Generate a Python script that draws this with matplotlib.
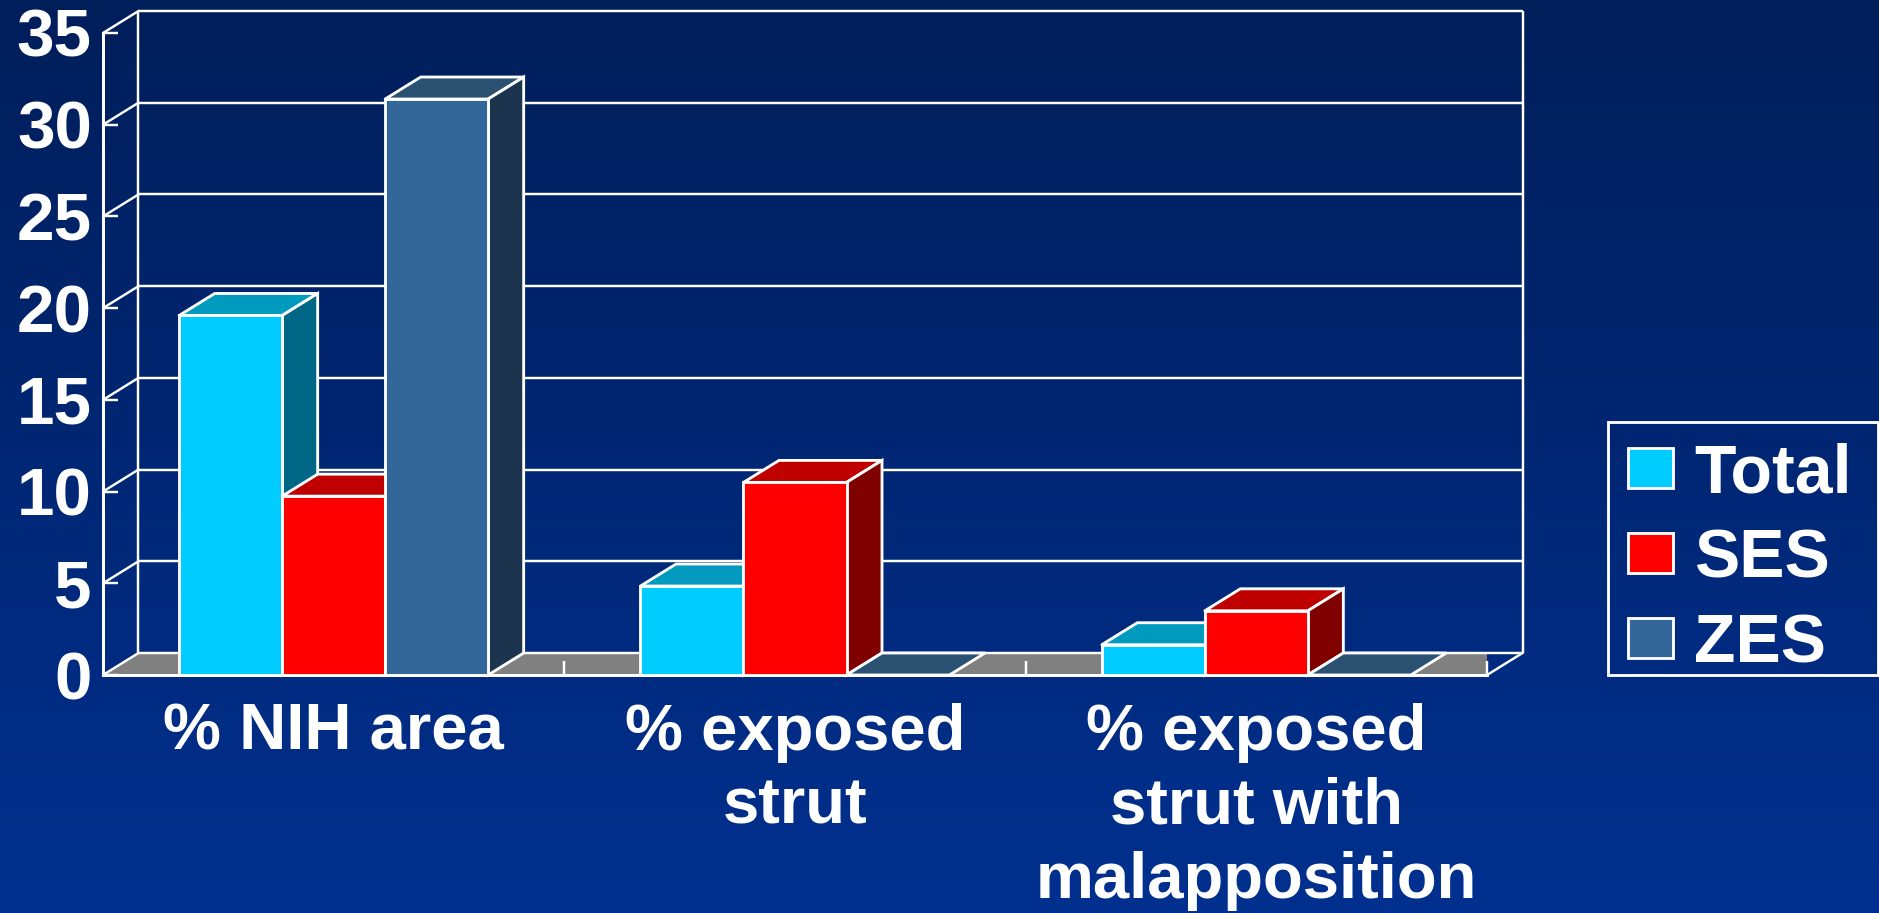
import numpy as np
import matplotlib
matplotlib.use("Agg")
import matplotlib.pyplot as plt
from matplotlib.patches import Polygon, Patch, Rectangle
from matplotlib.transforms import Affine2D, IdentityTransform

categories = ["% NIH area", "% exposed\nstrut", "% exposed\nstrut with\nmalapposition"]
series_names = ["Total", "SES", "ZES"]
total_vals = [19.6, 4.85, 1.65]
ses_vals = [9.75, 10.5, 3.5]
zes_vals = [31.4, 0.0, 0.0]
y_ticks = [0, 5, 10, 15, 20, 25, 30, 35]

front_cols = ["#00CCFF", "#FF0000", "#336699"]
top_cols = ["#009ABF", "#BF0000", "#2A5072"]
side_cols = ["#006685", "#800000", "#1C344D"]

W, H = 1879, 913
DX, DY = 35.5, 22.0
LW = 1.75
plt.rcParams["font.family"] = ["Liberation Sans", "DejaVu Sans"]
plt.rcParams["font.weight"] = "bold"

fig = plt.figure(figsize=(W / 100, H / 100), dpi=100)

# background gradient
bg = fig.add_axes([0, 0, 1, 1], zorder=-1)
c0 = np.array([0, 30, 90]) / 255
c1 = np.array([0, 48, 143]) / 255
t = np.linspace(0, 1, 256)[:, None, None]
bg.imshow(c0 + (c1 - c0) * t, aspect="auto", extent=(0, 1, 0, 1), origin="upper")
bg.axis("off")

L, R, T, B = 103, 1487, 33, 675
ax = fig.add_axes([L / W, 1 - B / H, (R - L) / W, (B - T) / H])
ax.patch.set_visible(False)
ax.set_xlim(-0.5, 2.5)
ax.set_ylim(0, 35)
back = ax.transData + Affine2D().translate(DX, DY)

# back wall grid, floor and side wall
floor = [(-0.5, 0), (2.5, 0)]
p = ax.transData.transform(floor)
ax.add_patch(Polygon([p[0], p[1], p[1] + (DX, DY), p[0] + (DX, DY)], closed=True,
                     facecolor="#808080", edgecolor="none", transform=IdentityTransform(), zorder=0.9))
ax.hlines(y_ticks, -0.5, 2.5, color="white", lw=LW, transform=back, zorder=1, clip_on=False)
ax.vlines([-0.5, 2.5], 0, 35, color="white", lw=LW, transform=back, zorder=1, clip_on=False)
for v in y_ticks:
    q = ax.transData.transform((-0.5, v))
    ax.plot([q[0], q[0] + DX], [q[1], q[1] + DY], color="white", lw=LW, transform=IdentityTransform(),
            zorder=1, clip_on=False, solid_capstyle="round")
q = ax.transData.transform((2.5, 0))
ax.plot([q[0], q[0] + DX], [q[1], q[1] + DY], color="white", lw=LW, transform=IdentityTransform(), zorder=1, clip_on=False)

# bars
bw = 103 / (461.33)
all_vals = [total_vals, ses_vals, zes_vals]
x = np.arange(len(categories))
for j, vals in enumerate(all_vals):
    z = 3 + j
    xs = x + (j - 1) * bw
    ax.bar(xs, vals, bw, color=front_cols[j], edgecolor="white", linewidth=LW + 0.3, zorder=z + 0.2, clip_on=False)
    for xi, v in zip(xs, vals):
        a = ax.transData.transform((xi - bw / 2, v))
        b = ax.transData.transform((xi + bw / 2, v))
        c = ax.transData.transform((xi + bw / 2, 0))
        d = np.array([DX, DY])
        ax.add_patch(Polygon([a, b, b + d, a + d], closed=True, facecolor=top_cols[j], edgecolor="white",
                             lw=LW + 0.3, transform=IdentityTransform(), zorder=z, clip_on=False, joinstyle="round"))
        if v > 0:
            ax.add_patch(Polygon([b, b + d, c + d, c], closed=True, facecolor=side_cols[j], edgecolor="white",
                                 lw=LW + 0.3, transform=IdentityTransform(), zorder=z + 0.1, clip_on=False))

# axes
for s in ["top", "right"]:
    ax.spines[s].set_visible(False)
for s in ["left", "bottom"]:
    ax.spines[s].set_color("white")
    ax.spines[s].set_linewidth(LW + 0.4)
ax.set_axisbelow(False)
ax.set_yticks(y_ticks)
ax.set_yticklabels([str(v) for v in y_ticks])
ax.tick_params(axis="y", direction="in", length=11, width=LW, color="white",
               labelcolor="white", labelsize=48.5, pad=8)
ax.set_xticks(x)
ax.set_xticklabels(categories, linespacing=1.3)
ax.set_xticks([0.5, 1.5, 2.5], minor=True)
ax.tick_params(axis="x", which="major", length=0, labelcolor="white", labelsize=47, pad=20)
ax.tick_params(axis="x", which="minor", direction="in", length=10, width=LW, color="white")

# legend
handles = [Patch(facecolor=c, edgecolor="white", linewidth=LW + 0.3) for c in front_cols]
leg = ax.legend(handles, series_names, loc="upper left", bbox_to_anchor=(1628, H - 442),
                bbox_transform=IdentityTransform(), frameon=False, borderaxespad=0, borderpad=0,
                fontsize=49, labelcolor="white", handlelength=0.66, handleheight=0.54,
                handletextpad=0.31, labelspacing=0.31)
fig.add_artist(Rectangle((1608, H - 675), 270, 253, facecolor="none", edgecolor="white",
                         lw=LW + 0.3, transform=IdentityTransform()))

fig.savefig("out.png", dpi=100)
